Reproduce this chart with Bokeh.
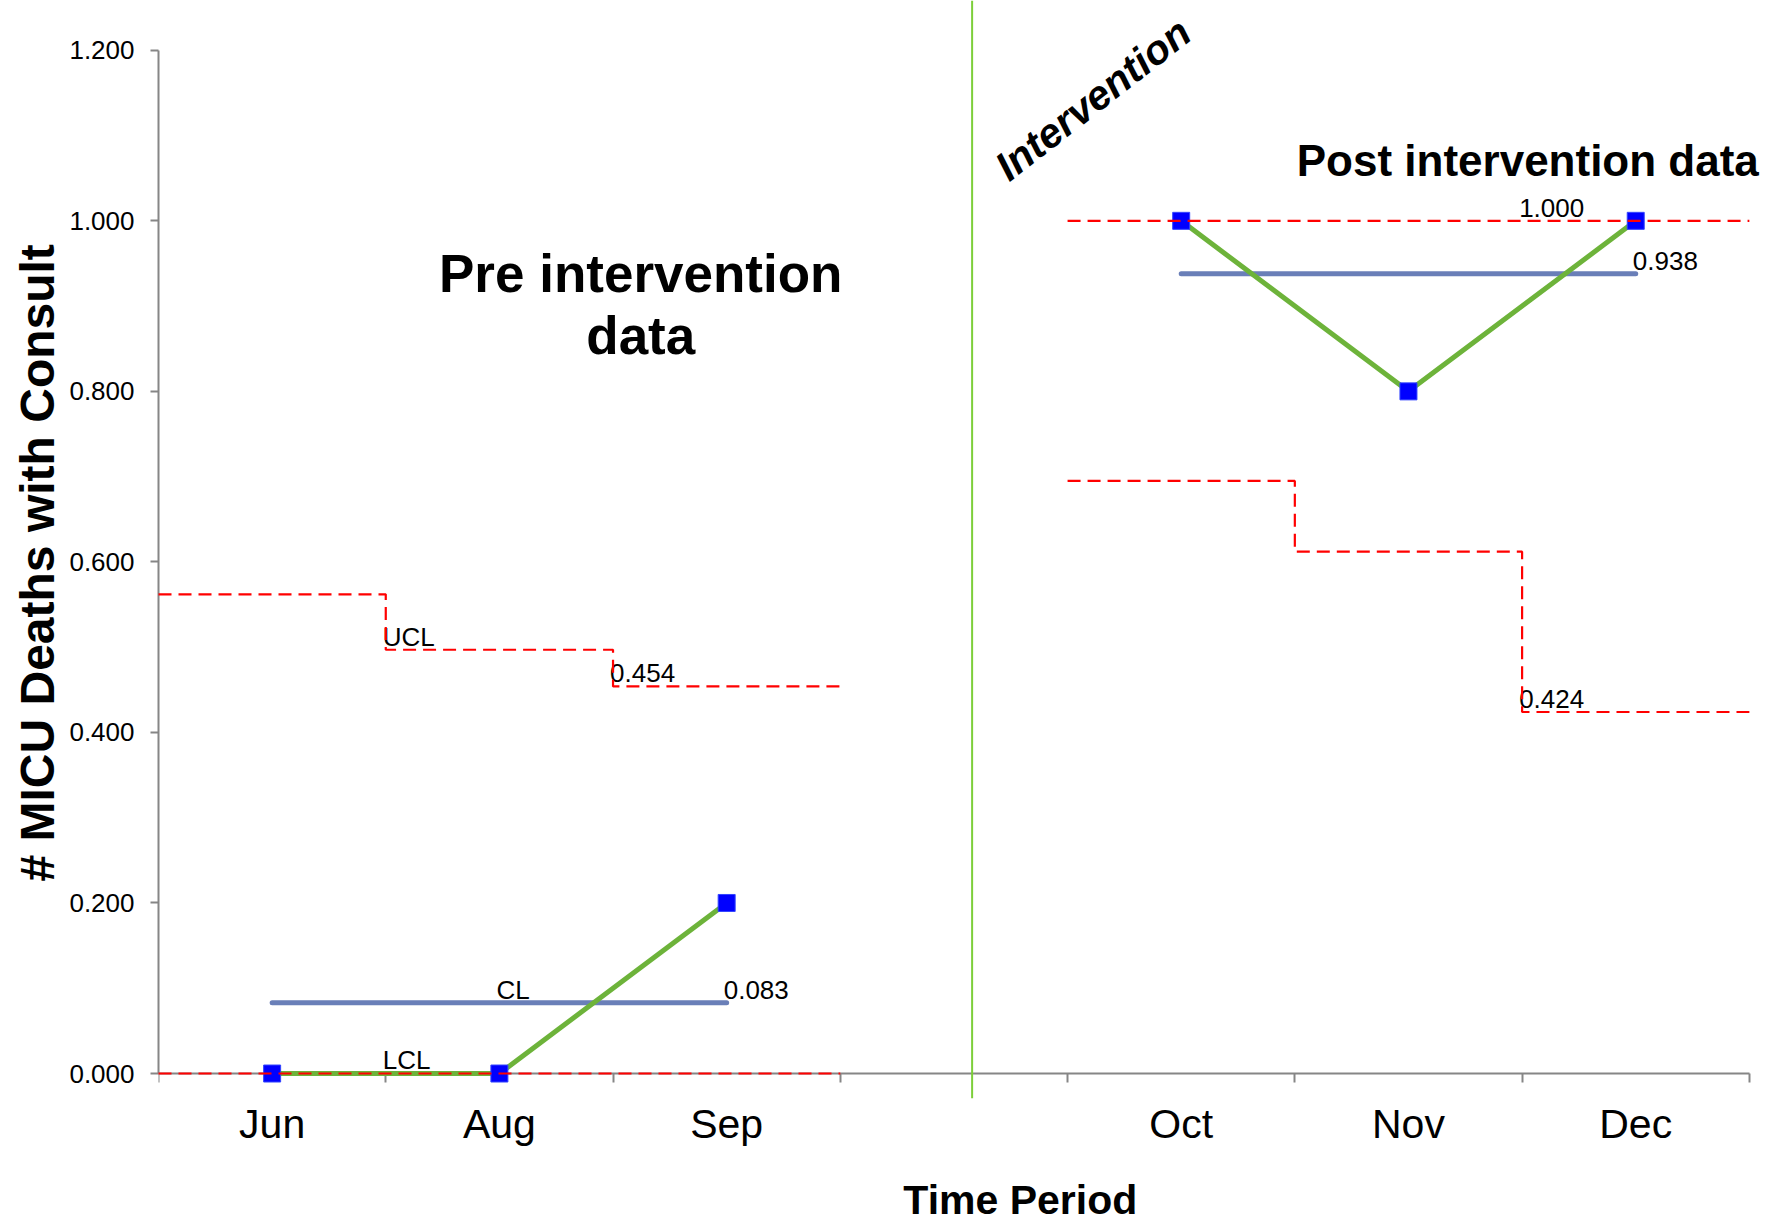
from bokeh.plotting import figure
from bokeh.models import Range1d, FixedTicker, Label, Span, NumeralTickFormatter, LinearAxis, Title
from bokeh.embed import file_html
from bokeh.resources import INLINE

# ---- data ----
pre_months = ["Jun", "Aug", "Sep"]
post_months = ["Oct", "Nov", "Dec"]
pre_values = [0.0, 0.0, 0.2]
post_values = [1.0, 0.8, 1.0]
pre_cl = 0.083
post_cl = 0.938
pre_ucl = [0.562, 0.497, 0.454]
pre_lcl = [0.0, 0.0, 0.0]
post_ucl = [1.0, 1.0, 1.0]
post_lcl = [0.695, 0.612, 0.424]
y_ticks = [0.0, 0.2, 0.4, 0.6, 0.8, 1.0, 1.2]

# slot layout: 3 pre months, one empty slot, 3 post months
pre_slots = [0, 1, 2]
post_slots = [4, 5, 6]
n_slots = 7
intervention_pos = 3.58
x_title_pos = 3.792

FONT = "Liberation Sans"
GREEN = "#6DB33A"
BLUE = "#0000FF"
CLC = "#6A7FB8"
RED = "#FF0000"
AXC = "#868686"

PX_PER_UNIT = 852.7  # vertical pixels per data unit (for text baseline tweaks)

p = figure(width=1775, height=1225,
           x_range=Range1d(0, 7.115), y_range=Range1d(-0.0293, 1.2584),
           min_border_left=158, min_border_right=0, min_border_top=0, min_border_bottom=127,
           output_backend="svg", toolbar_location=None)
p.outline_line_color = None
p.xgrid.visible = False
p.ygrid.visible = False
p.background_fill_color = "white"
p.border_fill_color = "white"

# y axis
ya = p.yaxis[0]
ya.bounds = (0, 1.2)
ya.ticker = FixedTicker(ticks=y_ticks)
ya.formatter = NumeralTickFormatter(format="0.000")
ya.axis_line_color = AXC
ya.axis_line_width = 2
ya.major_tick_line_color = AXC
ya.major_tick_line_width = 2
ya.major_tick_out = 8
ya.major_tick_in = 0
ya.minor_tick_line_color = None
ya.major_label_text_font = FONT
ya.major_label_text_font_size = "26px"
ya.major_label_text_color = "#000000"
ya.major_label_standoff = 16

p.add_layout(Title(text="# MICU Deaths with Consult", align="left", offset=217, standoff=5,
                   text_font=FONT, text_font_size="48px", text_font_style="bold",
                   text_color="#000000"), "left")

# x axis rule at y = 0 with slot boundary ticks
xa = p.xaxis[0]
xa.fixed_location = 0
xa.bounds = (0, n_slots)
xa.ticker = FixedTicker(ticks=[], minor_ticks=list(range(n_slots + 1)))
xa.axis_line_color = AXC
xa.axis_line_width = 2
xa.major_tick_line_color = None
xa.major_tick_out = 0
xa.major_tick_in = 0
xa.minor_tick_line_color = AXC
xa.minor_tick_line_width = 2
xa.minor_tick_out = 9
xa.minor_tick_in = 0
xa.major_label_standoff = 0

# month labels at slot centres
centers = [s + 0.5 for s in pre_slots + post_slots]
xl = LinearAxis(ticker=FixedTicker(ticks=centers), bounds=(0, n_slots),
                major_label_overrides={c: m for c, m in zip(centers, pre_months + post_months)},
                axis_line_color=None, major_tick_line_color=None, minor_tick_line_color=None,
                major_tick_out=0, major_tick_in=0, minor_tick_out=0, minor_tick_in=0,
                major_label_standoff=2, major_label_text_font=FONT,
                major_label_text_font_size="41px", major_label_text_color="#000000")
p.add_layout(xl, "below")

# x axis title
xt = LinearAxis(ticker=FixedTicker(ticks=[x_title_pos]),
                major_label_overrides={x_title_pos: "Time Period"},
                axis_line_color=None, major_tick_line_color=None, minor_tick_line_color=None,
                major_tick_out=0, major_tick_in=0, minor_tick_out=0, minor_tick_in=0,
                major_label_standoff=27, major_label_text_font=FONT,
                major_label_text_font_size="41px", major_label_text_font_style="bold",
                major_label_text_color="#000000")
p.add_layout(xt, "below")

# intervention line
p.add_layout(Span(location=intervention_pos, dimension="height", line_color="#7DCF3A", line_width=2))

pre_x = [s + 0.5 for s in pre_slots]
post_x = [s + 0.5 for s in post_slots]

# center lines
for xs_, v in ((pre_x, pre_cl), (post_x, post_cl)):
    p.line([xs_[0], xs_[-1]], [v, v], line_color=CLC, line_width=5, line_cap="round", level="overlay")

# data
for xs_, vs in ((pre_x, pre_values), (post_x, post_values)):
    p.line(xs_, vs, line_color=GREEN, line_width=5, level="overlay")
for xs_, vs in ((pre_x, pre_values), (post_x, post_values)):
    p.scatter(xs_, vs, marker="square", size=17, fill_color=BLUE, line_color="#3344FF",
              line_width=1, level="overlay")

# control limits (steps)
def step_line(slots, vals):
    xs = list(slots) + [slots[-1] + 1]
    ys = list(vals) + [vals[-1]]
    p.step(xs, ys, mode="after", line_color=RED, line_width=2.2, line_dash="13 7", level="overlay")

step_line(pre_slots, pre_ucl)
step_line(pre_slots, pre_lcl)
step_line(post_slots, post_ucl)
step_line(post_slots, post_lcl)

# small labels
def small(text, x, y):
    p.add_layout(Label(x=x, y=y + 0.37 * 26 / PX_PER_UNIT, text=text, text_font=FONT,
                       text_font_size="26px", text_color="#000000",
                       text_align="left", text_baseline="alphabetic"))

dx = -0.013
dy = 0.004
small("UCL", pre_slots[1] + dx, pre_ucl[1] + dy)
small(f"{pre_ucl[2]:.3f}", pre_slots[2] + dx, pre_ucl[2] + dy)
small("CL", pre_x[1] + dx, pre_cl + dy)
small(f"{pre_cl:.3f}", pre_x[2] + dx, pre_cl + dy)
small("LCL", pre_slots[1] + dx, pre_lcl[1] + dy)
small(f"{post_ucl[2]:.3f}", post_slots[2] + dx, post_ucl[2] + dy)
small(f"{post_cl:.3f}", post_x[2] + dx, post_cl + dy)
small(f"{post_lcl[2]:.3f}", post_slots[2] + dx, post_lcl[2] + dy)

# big titles
def big(text, x, y, size, style="bold", align="center", angle=0.0):
    p.add_layout(Label(x=x, y=y + 0.37 * size / PX_PER_UNIT, text=text, text_font=FONT,
                       text_font_size=f"{size}px", text_font_style=style, text_color="#000000",
                       text_align=align, text_baseline="alphabetic", angle=angle, angle_units="deg"))

big("Pre intervention", 2.122, 0.915, 53)
big("data", 2.122, 0.842, 53)
big("Post intervention data", 6.025, 1.052, 44)
big("Intervention", 3.705, 1.040, 41, style="bold italic", align="left", angle=38)

open("out.html", "w").write(file_html(p, INLINE))
